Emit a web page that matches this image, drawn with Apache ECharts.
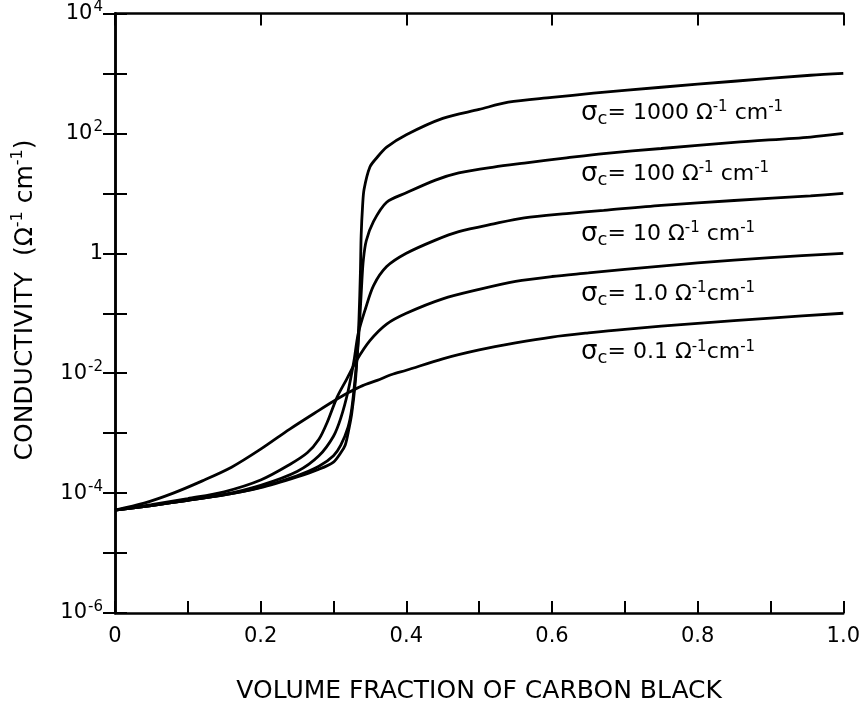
<!DOCTYPE html>
<html>
<head>
<meta charset="utf-8">
<script src="https://cdn.jsdelivr.net/npm/echarts@6/dist/echarts.min.js"></script>
<style>
html, body { margin: 0; padding: 0; background: #fff; }
#chart { width: 863px; height: 709px; }
</style>
</head>
<body>
<div id="chart"></div>
<script>
// volume fraction / conductivity, one pair of arrays per curve
var frac01 = [0, 0.04, 0.08, 0.12, 0.16, 0.2, 0.24, 0.28, 0.3, 0.32, 0.34, 0.36, 0.38, 0.4, 0.45, 0.5, 0.55, 0.6, 0.65, 0.7, 0.8, 0.9, 1.0];
var cond01 = [5.2e-5, 6.8e-5, 1.0e-4, 1.6e-4, 2.7e-4, 5.4e-4, 1.17e-3, 2.4e-3, 3.4e-3, 4.7e-3, 6.2e-3, 7.6e-3, 9.5e-3, 1.12e-2, 1.74e-2, 2.45e-2, 3.2e-2, 4.0e-2, 4.7e-2, 5.4e-2, 6.8e-2, 8.3e-2, 0.1];

var frac1 = [0, 0.05, 0.1, 0.15, 0.2, 0.24, 0.264, 0.28, 0.291, 0.305, 0.318, 0.332, 0.35, 0.373, 0.4, 0.45, 0.5, 0.55, 0.6, 0.65, 0.7, 0.8, 0.9, 1.0];
var cond1 = [5.2e-5, 6.4e-5, 8.1e-5, 1.05e-4, 1.65e-4, 3.0e-4, 4.7e-4, 7.9e-4, 1.48e-3, 4.0e-3, 7.9e-3, 1.66e-2, 3.5e-2, 6.6e-2, 0.1, 0.174, 0.25, 0.34, 0.41, 0.47, 0.54, 0.69, 0.85, 1.0];

var frac10 = [0, 0.05, 0.1, 0.15, 0.2, 0.25, 0.28, 0.3, 0.31, 0.32, 0.328, 0.334, 0.344, 0.355, 0.373, 0.4, 0.44, 0.472, 0.52, 0.562, 0.62, 0.671, 0.75, 0.85, 0.955, 1.0];
var cond10 = [5.2e-5, 6.2e-5, 7.6e-5, 9.5e-5, 1.35e-4, 2.3e-4, 4.2e-4, 8.9e-4, 1.78e-3, 5.0e-3, 1.58e-2, 4.6e-2, 0.12, 0.29, 0.6, 1.0, 1.66, 2.3, 3.1, 3.9, 4.6, 5.2, 6.3, 7.6, 9.1, 10];

var frac100 = [0, 0.05, 0.1, 0.15, 0.2, 0.25, 0.28, 0.3, 0.31, 0.32, 0.325, 0.33, 0.334, 0.337, 0.339, 0.341, 0.345, 0.355, 0.373, 0.4, 0.44, 0.472, 0.52, 0.562, 0.62, 0.671, 0.75, 0.85, 0.955, 1.0];
var cond100 = [5.2e-5, 6.2e-5, 7.6e-5, 9.3e-5, 1.26e-4, 1.95e-4, 2.8e-4, 4.2e-4, 6.3e-4, 1.26e-3, 2.5e-3, 8.9e-3, 3.2e-2, 0.126, 0.35, 0.78, 1.62, 3.4, 7.1, 10.2, 16.6, 21.9, 27.5, 32, 39, 46, 56, 71, 87, 100];

var frac1000 = [0, 0.05, 0.1, 0.15, 0.2, 0.25, 0.28, 0.3, 0.31, 0.316, 0.32, 0.325, 0.33, 0.333, 0.335, 0.337, 0.338, 0.34, 0.342, 0.35, 0.36, 0.373, 0.4, 0.45, 0.5, 0.54, 0.6, 0.657, 0.75, 0.85, 0.955, 1.0];
var cond1000 = [5.2e-5, 6.2e-5, 7.6e-5, 9.3e-5, 1.23e-4, 1.86e-4, 2.5e-4, 3.3e-4, 4.7e-4, 6.3e-4, 1.0e-3, 2.1e-3, 7.2e-3, 2.5e-2, 7.9e-2, 0.5, 2.0, 6.3, 11.7, 27.5, 40, 59, 95, 178, 251, 331, 398, 468, 589, 741, 933, 1000];

// curve labels: σc value and where the text starts (data space)
var labelValues = ['1000', '100', '10', '1.0', '0.1'];
var labelGap = [' ', ' ', ' ', '', ''];
var labelX = 0.64;
var labelY = [214, 21, 2.1, 0.21, 0.022];

var FONT = 'DejaVu Sans';

function pairs(xs, ys) {
    var out = [];
    for (var i = 0; i < xs.length; i++) out.push([xs[i], ys[i]]);
    return out;
}

function curve(xs, ys) {
    return {
        type: 'line',
        data: pairs(xs, ys),
        showSymbol: false,
        smooth: 0.3,
        lineStyle: { color: '#000', width: 2.8 },
        silent: true
    };
}

var axisLine = { show: true, lineStyle: { color: '#000', width: 2.5 } };
var axisTick = { show: true, inside: true, length: 12, lineStyle: { color: '#000', width: 2 } };

var myChart = echarts.init(document.getElementById('chart'));
var option = {
    animation: false,
    backgroundColor: '#fff',
    grid: { left: 115, right: 10, top: 11, bottom: 76 },
    xAxis: [{
        type: 'value', min: 0, max: 1, interval: 0.1, position: 'bottom',
        axisLine: axisLine, axisTick: axisTick, splitLine: { show: false },
        name: 'VOLUME FRACTION OF CARBON BLACK',
        nameLocation: 'middle', nameGap: 66,
        nameTextStyle: { fontFamily: FONT, fontSize: 25, color: '#000' },
        axisLabel: {
            margin: 13, color: '#000', fontFamily: FONT, fontSize: 21,
            formatter: function (v) {
                var k = Math.round(v * 10);
                if (k % 2 !== 0) return '';
                return k === 0 ? '0' : (k / 10).toFixed(1);
            }
        }
    }, {
        type: 'value', min: 0, max: 1, interval: 0.2, position: 'top',
        axisLine: axisLine, axisTick: axisTick, splitLine: { show: false },
        axisLabel: { show: false }
    }],
    yAxis: [{
        type: 'log', logBase: 10, min: 1e-6, max: 1e4, interval: 1, position: 'left',
        axisLine: axisLine, axisTick: axisTick, splitLine: { show: false },
        axisLabel: {
            margin: 12, color: '#000', fontFamily: FONT,
            formatter: function (v) {
                var e = Math.round(Math.log10(v));
                if (e % 2 !== 0) return '';
                if (e === 0) return '{b|1}';
                return '{b|10}{e|' + e + '}';
            },
            rich: {
                b: { fontFamily: FONT, fontSize: 21, color: '#000' },
                e: { fontFamily: FONT, fontSize: 15, color: '#000', padding: [0, 0, 12, 1] }
            }
        }
    }, {
        type: 'log', logBase: 10, min: 1e-6, max: 1e4, interval: 1, position: 'right',
        axisLine: axisLine, axisTick: axisTick, splitLine: { show: false },
        axisLabel: { show: false }
    }],
    series: [
        curve(frac1000, cond1000),
        curve(frac100, cond100),
        curve(frac10, cond10),
        curve(frac1, cond1),
        curve(frac01, cond01)
    ]
};
myChart.setOption(option);

// annotations: y title and σc labels
var textRich = {
    s: { fontFamily: FONT, fontSize: 26, fill: '#000' },
    c: { fontFamily: FONT, fontSize: 18, fill: '#000', padding: [12, 0, 0, 0] },
    t: { fontFamily: FONT, fontSize: 22, fill: '#000' },
    u: { fontFamily: FONT, fontSize: 15, fill: '#000', padding: [0, 0, 12, 0] }
};
var graphics = [{
    type: 'text',
    x: 25, y: 300,
    rotation: Math.PI / 2,
    style: {
        text: '{t|CONDUCTIVITY  (\u03A9}{u|-1}{t| cm}{u|-1}{t|)}',
        align: 'center', verticalAlign: 'middle',
        rich: {
            t: { fontFamily: FONT, fontSize: 25, fill: '#000' },
            u: { fontFamily: FONT, fontSize: 16, fill: '#000', padding: [0, 0, 14, 0] }
        }
    }
}];
for (var i = 0; i < labelValues.length; i++) {
    var p = myChart.convertToPixel({ xAxisIndex: 0, yAxisIndex: 0 }, [labelX, labelY[i]]);
    graphics.push({
        type: 'text',
        x: p[0], y: p[1],
        style: {
            text: '{s|\u03C3}{c|c}{t|= ' + labelValues[i] + ' \u03A9}{u|-1}{t|' + labelGap[i] + 'cm}{u|-1}',
            align: 'left', verticalAlign: 'middle',
            rich: textRich
        }
    });
}
myChart.setOption({ graphic: graphics });
</script>
</body>
</html>
